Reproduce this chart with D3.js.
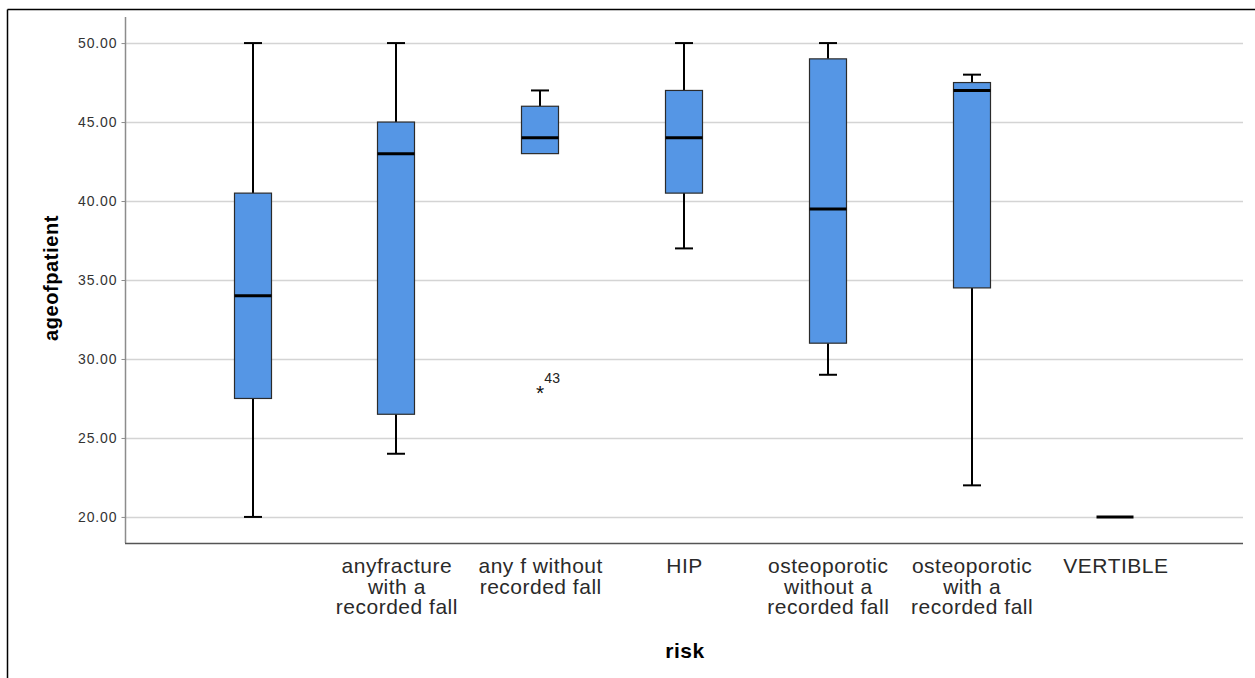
<!DOCTYPE html>
<html>
<head>
<meta charset="utf-8">
<script src="https://cdn.jsdelivr.net/npm/d3@7"></script>
<style>
  html, body { margin: 0; padding: 0; background: #fff; }
  svg { display: block; }
</style>
</head>
<body>
<svg id="chart" width="1255" height="678"></svg>
<script>
// ---- data ----
const categories = ["", "anyfracture with a recorded fall", "any f without recorded fall", "HIP",
  "osteoporotic without a recorded fall", "osteoporotic with a recorded fall", "VERTIBLE"];
const categoryLines = [[""], ["anyfracture", "with a", "recorded fall"], ["any f without", "recorded fall"], ["HIP"],
  ["osteoporotic", "without a", "recorded fall"], ["osteoporotic", "with a", "recorded fall"], ["VERTIBLE"]];
const whiskerLow  = [20, 24, 43, 37, 29, 22, 20];
const q1          = [27.5, 26.5, 43, 40.5, 31, 34.5, 20];
const median      = [34, 43, 44, 44, 39.5, 47, 20];
const q3          = [40.5, 45, 46, 47, 49, 47.5, 20];
const whiskerHigh = [50, 50, 47, 50, 50, 48, 20];
const outliers = [{cat: "any f without recorded fall", value: 28, label: "43"}];
const yTicks = [20, 25, 30, 35, 40, 45, 50];
const yTitle = "ageofpatient";
const xTitle = "risk";

// ---- layout ----
const svg = d3.select("#chart");
const pLeft = 125, pRight = 1243, pTop = 17, pBottom = 543;

const x = d3.scalePoint().domain(categories).range([pLeft, pRight]).padding(0.887);
const y = d3.scaleLinear().domain([18.35, 51.65]).range([pBottom, pTop]);

const boxW = 37, capW = 18;
const fill = "#5596e5";

// outer frame (cropped)
svg.append("line").attr("x1", 7.5).attr("x2", 1255).attr("y1", 9.5).attr("y2", 9.5)
  .attr("stroke", "#000").attr("stroke-width", 1.5);
svg.append("line").attr("x1", 7.5).attr("x2", 7.5).attr("y1", 9.5).attr("y2", 678)
  .attr("stroke", "#000").attr("stroke-width", 1.5);

// gridlines
svg.append("g").selectAll("line").data(yTicks).join("line")
  .attr("x1", pLeft).attr("x2", pRight)
  .attr("y1", d => Math.round(y(d)) + 0.5).attr("y2", d => Math.round(y(d)) + 0.5)
  .attr("stroke", "#d4d4d4").attr("stroke-width", 1.5);

// y axis
const yAxis = svg.append("g").attr("transform", `translate(${pLeft + 0.5},0)`)
  .call(d3.axisLeft(y).tickValues(yTicks).tickFormat(d3.format(".2f")).tickSize(4).tickPadding(4));
yAxis.select(".domain").attr("stroke", "#8c8c8c").attr("stroke-width", 1.5)
  .attr("d", `M0,${pTop}V${pBottom}`);
yAxis.selectAll(".tick line").attr("stroke", "#8c8c8c");
yAxis.selectAll(".tick text")
  .attr("font-family", "'Liberation Sans', Arial, sans-serif")
  .attr("font-size", 14).attr("letter-spacing", "0.9px").attr("fill", "#333");

// x axis
const xAxis = svg.append("g").attr("transform", `translate(0,${pBottom + 0.5})`)
  .call(d3.axisBottom(x).tickSize(0).tickFormat(""));
xAxis.select(".domain").attr("stroke", "#555").attr("stroke-width", 1.5)
  .attr("d", `M${pLeft},0H${pRight}`);
xAxis.selectAll(".tick").each(function(d, i) {
  const t = d3.select(this).select("text")
    .attr("font-family", "'Liberation Sans', Arial, sans-serif")
    .attr("font-size", 21).attr("letter-spacing", "0.5px").attr("fill", "#2a2a2a")
    .attr("text-anchor", "middle").attr("dy", null).attr("y", 29.5);
  t.text(null);
  t.selectAll("tspan").data(categoryLines[i]).join("tspan")
    .attr("x", 0).attr("dy", (l, j) => j === 0 ? 0 : 20.5).text(l => l);
});

// boxes
const g = svg.append("g");
categories.forEach((c, i) => {
  const cx = Math.round(x(c));
  const stroke = "#000";
  if (whiskerHigh[i] > q3[i]) {
    g.append("line").attr("x1", cx).attr("x2", cx).attr("y1", y(q3[i])).attr("y2", y(whiskerHigh[i]))
      .attr("stroke", stroke).attr("stroke-width", 2);
    g.append("line").attr("x1", cx - capW / 2).attr("x2", cx + capW / 2)
      .attr("y1", y(whiskerHigh[i])).attr("y2", y(whiskerHigh[i]))
      .attr("stroke", stroke).attr("stroke-width", 2);
  }
  if (whiskerLow[i] < q1[i]) {
    g.append("line").attr("x1", cx).attr("x2", cx).attr("y1", y(q1[i])).attr("y2", y(whiskerLow[i]))
      .attr("stroke", stroke).attr("stroke-width", 2);
    g.append("line").attr("x1", cx - capW / 2).attr("x2", cx + capW / 2)
      .attr("y1", y(whiskerLow[i])).attr("y2", y(whiskerLow[i]))
      .attr("stroke", stroke).attr("stroke-width", 2);
  }
  if (q3[i] > q1[i]) {
    g.append("rect").attr("x", cx - boxW / 2).attr("y", y(q3[i]))
      .attr("width", boxW).attr("height", y(q1[i]) - y(q3[i]))
      .attr("fill", fill).attr("stroke", "#2b2b2b").attr("stroke-width", 1.2);
  }
  g.append("line").attr("x1", cx - boxW / 2).attr("x2", cx + boxW / 2)
    .attr("y1", y(median[i])).attr("y2", y(median[i]))
    .attr("stroke", "#000").attr("stroke-width", 3);
});

// outliers
outliers.forEach(o => {
  const cx = x(o.cat), cy = y(o.value);
  svg.append("text").attr("x", cx).attr("y", cy + 9).attr("text-anchor", "middle")
    .attr("font-family", "'Liberation Sans', Arial, sans-serif").attr("font-size", 21)
    .attr("fill", "#111").text("*");
  svg.append("text").attr("x", cx + 4).attr("y", cy - 8)
    .attr("font-family", "'Liberation Sans', Arial, sans-serif").attr("font-size", 14)
    .attr("letter-spacing", "0.4px").attr("fill", "#222").text(o.label);
});

// titles
svg.append("text").attr("transform", `translate(58,278) rotate(-90)`).attr("text-anchor", "middle")
  .attr("font-family", "'Liberation Sans', Arial, sans-serif").attr("font-weight", "bold")
  .attr("font-size", 20).attr("letter-spacing", "0.6px").attr("fill", "#000").text(yTitle);
svg.append("text").attr("x", (pLeft + pRight) / 2 + 1).attr("y", 658).attr("text-anchor", "middle")
  .attr("font-family", "'Liberation Sans', Arial, sans-serif").attr("font-weight", "bold")
  .attr("font-size", 21).attr("letter-spacing", "0.5px").attr("fill", "#000").text(xTitle);
</script>
</body>
</html>
